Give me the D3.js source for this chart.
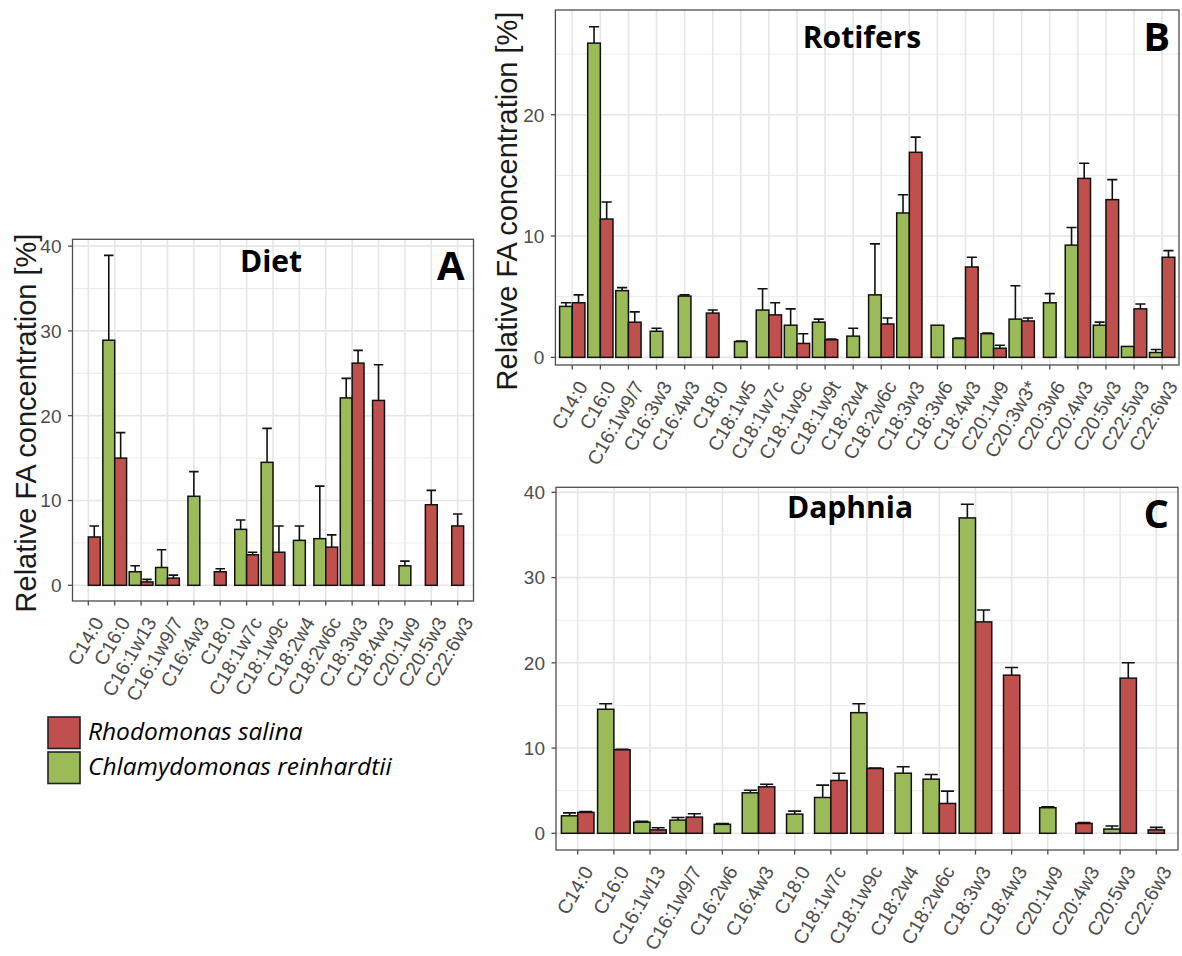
<!DOCTYPE html>
<html>
<head>
<meta charset="utf-8">
<script src="https://cdn.jsdelivr.net/npm/d3@7"></script>
<style>
  body { margin: 0; background: #fff; }
  svg { display: block; }
</style>
</head>
<body>
<div id="chart"></div>
<script>
// fatty acid profiles: diet algae (A), rotifers (B), daphnia (C)

const catsA = ["C14:0", "C16:0", "C16:1w13", "C16:1w9/7", "C16:4w3", "C18:0", "C18:1w7c", "C18:1w9c",
  "C18:2w4", "C18:2w6c", "C18:3w3", "C18:4w3", "C20:1w9", "C20:5w3", "C22:6w3"];
const greenA = [0, 28.9, 1.6, 2.1, 10.5, null, 6.6, 14.5, 5.3, 5.5, 22.1, null, 2.3, null, null];
const greenSdA = [0, 10.0, 0.7, 2.1, 2.9, null, 1.1, 4.0, 1.7, 6.2, 2.3, null, 0.55, null, null];
const redA = [5.7, 15.0, 0.4, 0.85, null, 1.6, 3.6, 3.9, null, 4.5, 26.2, 21.8, null, 9.5, 7.0];
const redSdA = [1.3, 3.0, 0.3, 0.35, null, 0.35, 0.3, 3.1, null, 1.45, 1.5, 4.2, null, 1.7, 1.4];

const catsB = ["C14:0", "C16:0", "C16:1w9/7", "C16:3w3", "C16:4w3", "C18:0", "C18:1w5", "C18:1w7c",
  "C18:1w9c", "C18:1w9t", "C18:2w4", "C18:2w6c", "C18:3w3", "C18:3w6", "C18:4w3", "C20:1w9",
  "C20:3w3*", "C20:3w6", "C20:4w3", "C20:5w3", "C22:5w3", "C22:6w3"];
const greenB = [4.2, 25.9, 5.5, 2.15, 5.05, null, 1.3, 3.9, 2.65, 2.9, 1.75, 5.15, 11.9, 2.65, 1.55, 1.95,
  3.15, 4.5, 9.25, 2.65, 0.9, 0.4];
const greenSdB = [0.3, 1.35, 0.25, 0.25, 0.1, null, 0.05, 1.75, 1.35, 0.25, 0.65, 4.2, 1.5, 0, 0.05, 0.05,
  2.75, 0.75, 1.45, 0.25, 0, 0.25];
const redB = [4.5, 11.4, 2.9, null, null, 3.65, null, 3.5, 1.15, 1.45, null, 2.75, 16.9, null, 7.45, 0.75,
  3.0, null, 14.75, 13.0, 4.0, 8.25];
const redSdB = [0.65, 1.4, 0.85, null, null, 0.25, null, 1.0, 0.8, 0.05, null, 0.5, 1.25, null, 0.8, 0.25,
  0.25, null, 1.25, 1.65, 0.4, 0.55];

const catsC = ["C14:0", "C16:0", "C16:1w13", "C16:1w9/7", "C16:2w6", "C16:4w3", "C18:0", "C18:1w7c",
  "C18:1w9c", "C18:2w4", "C18:2w6c", "C18:3w3", "C18:4w3", "C20:1w9", "C20:4w3", "C20:5w3", "C22:6w3"];
const greenC = [2.05, 14.55, 1.3, 1.55, 1.05, 4.75, 2.25, 4.2, 14.15, 7.05, 6.35, 37.0, null, 3.0, null, 0.5, null];
const greenSdC = [0.35, 0.65, 0.1, 0.3, 0.1, 0.3, 0.35, 1.45, 1.05, 0.75, 0.55, 1.6, null, 0.1, null, 0.35, null];
const redC = [2.45, 9.8, 0.4, 1.9, null, 5.45, null, 6.2, 7.6, null, 3.5, 24.8, 18.55, null, 1.15, 18.2, 0.4];
const redSdC = [0.1, 0.05, 0.25, 0.4, null, 0.3, null, 0.85, 0.05, null, 1.45, 1.4, 0.9, null, 0.1, 1.8, 0.3];

const ticksA = [0, 10, 20, 30, 40];
const ticksB = [0, 10, 20];
const ticksC = [0, 10, 20, 30, 40];

const legendLabels = ["Rhodomonas salina", "Chlamydomonas reinhardtii"];
const yTitle = "Relative FA concentration [%]";

const GREEN = "#9bbb59";
const RED = "#c0504d";

const width = 1182, height = 956;

const svg = d3.select("#chart").append("svg")
  .attr("width", width)
  .attr("height", height);

function drawPanel(p) {
  const g = svg.append("g");

  const x = d3.scaleBand()
    .domain(p.cats)
    .range([p.left, p.right])
    .paddingInner(0)
    .paddingOuter(0.1);
  const step = x.step();

  const y = d3.scaleLinear()
    .domain(p.yDomain)
    .range([p.bottom, p.top]);

  // minor + major grid
  const half = (p.ticks[1] - p.ticks[0]) / 2;
  const minor = p.ticks.map(t => t + half).filter(t => t < p.yDomain[1]);
  g.selectAll(".minor").data(minor).enter().append("line")
    .attr("x1", p.left).attr("x2", p.right)
    .attr("y1", d => y(d)).attr("y2", d => y(d))
    .attr("stroke", "#ebebeb").attr("stroke-width", 1);
  g.selectAll(".majorY").data(p.ticks).enter().append("line")
    .attr("x1", p.left).attr("x2", p.right)
    .attr("y1", d => y(d)).attr("y2", d => y(d))
    .attr("stroke", "#e6e6e6").attr("stroke-width", 1.6);
  g.selectAll(".majorX").data(p.cats).enter().append("line")
    .attr("x1", d => x(d) + step / 2).attr("x2", d => x(d) + step / 2)
    .attr("y1", p.top).attr("y2", p.bottom)
    .attr("stroke", "#e6e6e6").attr("stroke-width", 1.6);

  // bars: two slots when both species present, centred single bar otherwise
  const bars = [];
  p.cats.forEach((c, i) => {
    const both = p.green[i] !== null && p.red[i] !== null;
    const bw = step * 0.45;
    const cx = x(c) + step / 2;
    if (p.green[i] !== null) {
      bars.push({ cx: both ? cx - bw / 2 : cx, bw: bw, v: p.green[i], sd: p.greenSd[i], fill: GREEN });
    }
    if (p.red[i] !== null) {
      bars.push({ cx: both ? cx + bw / 2 : cx, bw: bw, v: p.red[i], sd: p.redSd[i], fill: RED });
    }
  });
  const shown = bars.filter(d => d.v > 0);

  g.selectAll(".err").data(shown.filter(d => d.sd > 0)).enter().append("path")
    .attr("d", d => {
      const cw = d.bw * 0.8;
      return `M${d.cx},${y(d.v)}V${y(d.v + d.sd)}M${d.cx - cw / 2},${y(d.v + d.sd)}H${d.cx + cw / 2}`;
    })
    .attr("fill", "none")
    .attr("stroke", "#111")
    .attr("stroke-width", 1.6);

  g.selectAll(".bar").data(shown).enter().append("rect")
    .attr("x", d => d.cx - d.bw / 2)
    .attr("y", d => y(d.v))
    .attr("width", d => d.bw)
    .attr("height", d => y(0) - y(d.v))
    .attr("fill", d => d.fill)
    .attr("stroke", "#111")
    .attr("stroke-width", 1.5);

  // panel border
  g.append("rect")
    .attr("x", p.left).attr("y", p.top)
    .attr("width", p.right - p.left).attr("height", p.bottom - p.top)
    .attr("fill", "none")
    .attr("stroke", "#4d4d4d")
    .attr("stroke-width", 1.3);

  // y axis
  g.selectAll(".ytick").data(p.ticks).enter().append("line")
    .attr("x1", p.left - 4.5).attr("x2", p.left)
    .attr("y1", d => y(d)).attr("y2", d => y(d))
    .attr("stroke", "#4d4d4d").attr("stroke-width", 1.3);
  g.selectAll(".ylab").data(p.ticks).enter().append("text")
    .attr("x", p.left - 11)
    .attr("y", d => y(d))
    .attr("dy", "0.36em")
    .attr("text-anchor", "end")
    .attr("font-family", "Liberation Sans, Arial, sans-serif")
    .attr("font-size", 19)
    .attr("fill", "#4d4d4d")
    .text(d => d);

  // x axis
  g.selectAll(".xtick").data(p.cats).enter().append("line")
    .attr("x1", d => x(d) + step / 2).attr("x2", d => x(d) + step / 2)
    .attr("y1", p.bottom).attr("y2", p.bottom + 4.5)
    .attr("stroke", "#4d4d4d").attr("stroke-width", 1.3);
  g.selectAll(".xlab").data(p.cats).enter().append("text")
    .attr("transform", d => `translate(${x(d) + step / 2 + 4},${p.bottom + 14}) rotate(-60)`)
    .attr("dy", "0.72em")
    .attr("text-anchor", "end")
    .attr("font-family", "Liberation Sans, Arial, sans-serif")
    .attr("font-size", 19.5)
    .attr("fill", "#4d4d4d")
    .text(d => d);

  // titles
  g.append("text")
    .attr("x", p.titleX).attr("y", p.titleY)
    .attr("text-anchor", "middle")
    .attr("font-family", "Open Sans, sans-serif")
    .attr("font-weight", "bold")
    .attr("font-size", 30)
    .attr("fill", "#000")
    .text(p.title);
  g.append("text")
    .attr("x", p.right - 9).attr("y", p.top + 41)
    .attr("text-anchor", "end")
    .attr("font-family", "Open Sans, sans-serif")
    .attr("font-weight", "bold")
    .attr("font-size", 40)
    .attr("fill", "#000")
    .text(p.letter);

  if (p.yTitleX) {
    g.append("text")
      .attr("transform", `translate(${p.yTitleX},${p.yTitleY}) rotate(-90)`)
      .attr("text-anchor", "middle")
      .attr("font-family", "Liberation Sans, Arial, sans-serif")
      .attr("font-size", 29)
      .attr("fill", "#1a1a1a")
      .text(yTitle);
  }
}

drawPanel({
  cats: catsA, green: greenA, greenSd: greenSdA, red: redA, redSd: redSdA, ticks: ticksA,
  left: 72.5, right: 473.5, top: 239.3, bottom: 601, yDomain: [-1.85, 40.8],
  title: "Diet", titleX: 271, titleY: 272, letter: "A", yTitleX: 36, yTitleY: 423
});

drawPanel({
  cats: catsB, green: greenB, greenSd: greenSdB, red: redB, redSd: redSdB, ticks: ticksB,
  left: 555.4, right: 1179, top: 10, bottom: 365, yDomain: [-0.63, 28.63],
  title: "Rotifers", titleX: 862, titleY: 48, letter: "B", yTitleX: 517, yTitleY: 201
});

drawPanel({
  cats: catsC, green: greenC, greenSd: greenSdC, red: redC, redSd: redSdC, ticks: ticksC,
  left: 556, right: 1178, top: 487.3, bottom: 850, yDomain: [-1.96, 40.59],
  title: "Daphnia", titleX: 850, titleY: 518, letter: "C", yTitleX: null
});

// legend
const legend = svg.append("g").attr("transform", "translate(48,717)");
legend.selectAll("rect").data(legendLabels).enter().append("rect")
  .attr("x", 0)
  .attr("y", (_, i) => i * 35)
  .attr("width", 32)
  .attr("height", 31.5)
  .attr("fill", (_, i) => i === 0 ? RED : GREEN)
  .attr("stroke", "#222")
  .attr("stroke-width", 1.6);
legend.selectAll("text").data(legendLabels).enter().append("text")
  .attr("x", 40)
  .attr("y", (_, i) => 22.5 + i * 35)
  .attr("font-family", "Open Sans, sans-serif")
  .attr("font-style", "italic")
  .attr("font-size", 24.5)
  .attr("fill", "#000")
  .text(d => d);
</script>
</body>
</html>
